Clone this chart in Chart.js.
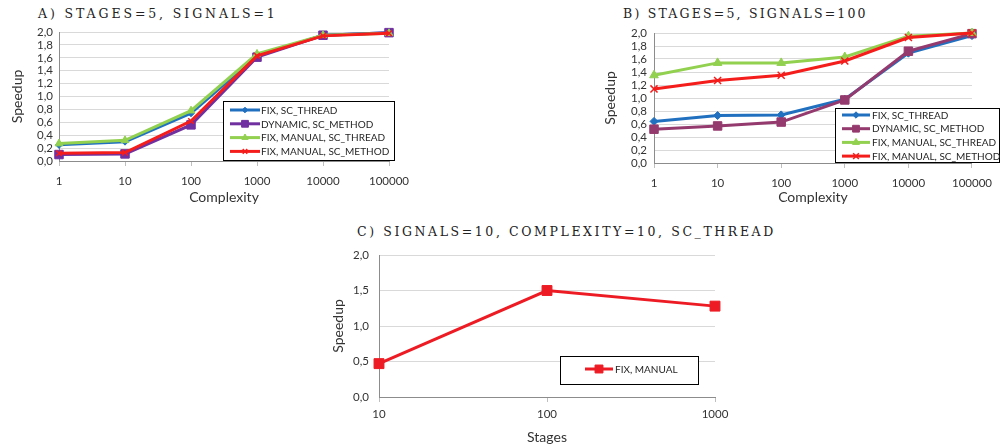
<!DOCTYPE html>
<html>
<head>
<meta charset="utf-8">
<script src="https://cdn.jsdelivr.net/npm/chart.js@4"></script>
<style>
  body { margin: 0; background: #fff; width: 1000px; height: 448px; position: relative; overflow: hidden; }
  .box { position: absolute; }
  .ttl { position: absolute; font-family: "DejaVu Serif"; font-size: 12.5px; letter-spacing: 2.2px; color: #222; white-space: nowrap; line-height: 16px; }
</style>
</head>
<body>
<div class="ttl" style="left:38px;top:6px;letter-spacing:2.9px">A) STAGES=5, SIGNALS=1</div>
<div class="ttl" style="left:623px;top:6px">B) STAGES=5, SIGNALS=100</div>
<div class="ttl" style="left:357px;top:224px;letter-spacing:2.6px">C) SIGNALS=10, COMPLEXITY=10, SC_THREAD</div>

<div class="box" style="left:0;top:0"><canvas id="chartA" width="420" height="210"></canvas></div>
<div class="box" style="left:580px;top:0"><canvas id="chartB" width="420" height="210"></canvas></div>
<div class="box" style="left:320px;top:215px"><canvas id="chartC" width="420" height="233"></canvas></div>

<script>
// categories
const complexity = ['1', '10', '100', '1000', '10000', '100000'];
const stages = ['10', '100', '1000'];
const seriesNames = ['FIX, SC_THREAD', 'DYNAMIC, SC_METHOD', 'FIX, MANUAL, SC_THREAD', 'FIX, MANUAL, SC_METHOD'];

// A) STAGES=5, SIGNALS=1
const aFixThread = [0.25, 0.30, 0.74, 1.63, 1.95, 1.99];
const aDynMethod = [0.10, 0.11, 0.56, 1.61, 1.95, 1.99];
const aManThread = [0.27, 0.32, 0.78, 1.66, 1.95, 1.98];
const aManMethod = [0.12, 0.13, 0.62, 1.63, 1.94, 1.98];

// B) STAGES=5, SIGNALS=100
const bFixThread = [0.64, 0.73, 0.74, 0.98, 1.69, 1.96];
const bDynMethod = [0.52, 0.57, 0.63, 0.97, 1.72, 1.99];
const bManThread = [1.35, 1.54, 1.54, 1.63, 1.95, 2.00];
const bManMethod = [1.14, 1.27, 1.35, 1.57, 1.93, 2.00];

// C) SIGNALS=10, COMPLEXITY=10
const cFixManual = [0.47, 1.50, 1.28];

const FONT = 'Lato';

// legend drawn inside the plot, like the excel one
const boxLegend = {
  id: 'boxLegend',
  afterDraw(chart, args, o) {
    const ctx = chart.ctx;
    ctx.save();
    ctx.fillStyle = '#fff';
    ctx.fillRect(o.x, o.y, o.w, o.h);
    ctx.strokeStyle = '#000';
    ctx.lineWidth = 1;
    ctx.strokeRect(o.x + 0.5, o.y + 0.5, o.w, o.h);
    ctx.font = o.font;
    ctx.textBaseline = 'middle';
    chart.data.datasets.forEach((ds, i) => {
      const y = o.rowY + i * o.rowH;
      ctx.strokeStyle = ds.borderColor;
      ctx.lineWidth = ds.borderWidth;
      ctx.beginPath();
      ctx.moveTo(o.lineX, y);
      ctx.lineTo(o.lineX + o.lineW, y);
      ctx.stroke();
      ctx.fillStyle = ds.pointBackgroundColor;
      ctx.strokeStyle = ds.pointBorderColor;
      ctx.lineWidth = ds.pointBorderWidth;
      Chart.helpers.drawPoint(ctx, { pointStyle: ds.pointStyle, radius: ds.pointRadius * 0.8, borderWidth: ds.pointBorderWidth, rotation: 0 },
        o.lineX + o.lineW / 2, y);
      ctx.fillStyle = '#262626';
      ctx.fillText(ds.label, o.textX, y + 0.5);
    });
    ctx.restore();
  }
};

function series(label, data, color, style, radius, order) {
  return {
    label: label,
    data: data,
    borderColor: color,
    backgroundColor: color,
    pointBackgroundColor: color,
    pointBorderColor: color,
    pointBorderWidth: style === 'crossRot' ? 1.5 : 1,
    borderWidth: 3,
    pointStyle: style,
    pointRadius: radius,
    tension: 0,
    clip: false,
    order: order
  };
}

function fmt(v) {
  return v.toFixed(1).replace('.', ',');
}

function makeOptions(p) {
  return {
    responsive: false,
    animation: false,
    layout: { padding: { left: 0, top: p.top, right: p.right, bottom: 0 } },
    plugins: { legend: { display: false }, tooltip: { enabled: false }, boxLegend: p.legend },
    scales: {
      x: {
        grid: { display: true, drawOnChartArea: false, drawTicks: true, tickLength: 5, color: '#bfbfbf' },
        border: { color: '#8c8c8c', width: 1 },
        ticks: { color: '#333', font: { family: FONT, size: 11.5 }, padding: p.xPad, maxRotation: 0, autoSkip: false },
        title: { display: true, text: p.xTitle, color: '#333', font: { family: FONT, size: 14 }, padding: { top: 0, bottom: p.xTitlePad } },
        afterFit: s => { s.height = p.xHeight; }
      },
      y: {
        min: 0, max: 2,
        grid: { color: '#d9d9d9', drawTicks: false },
        border: { color: '#8c8c8c', width: 1 },
        ticks: { stepSize: p.step, autoSkip: false, color: '#333', font: { family: FONT, size: 11.5 }, padding: p.yPad, callback: fmt },
        title: { display: true, text: 'Speedup', color: '#333', font: { family: FONT, size: 14 }, padding: { top: p.yTitlePad, bottom: 0 } },
        afterFit: s => { s.width = p.yWidth; }
      }
    }
  };
}

new Chart(document.getElementById('chartA'), {
  type: 'line',
  data: {
    labels: complexity,
    datasets: [
      series(seriesNames[0], aFixThread, '#2170c0', 'rectRot', 3.5, 3),
      series(seriesNames[1], aDynMethod, '#7030a0', 'rect', 6, 2),
      series(seriesNames[2], aManThread, '#92d050', 'triangle', 4.5, 1),
      series(seriesNames[3], aManMethod, '#f51c1c', 'crossRot', 4, 0)
    ]
  },
  options: makeOptions({
    top: 32, right: 31, xHeight: 49, yWidth: 59, xPad: 8, yPad: 6, step: 0.2,
    xTitle: 'Complexity', xTitlePad: 4, yTitlePad: 9,
    legend: { x: 223, y: 101, w: 171, h: 59, lineX: 230, lineW: 30, rowY: 110, rowH: 13.8, textX: 261, font: '10px ' + FONT }
  }),
  plugins: [boxLegend]
});

new Chart(document.getElementById('chartB'), {
  type: 'line',
  data: {
    labels: complexity,
    datasets: [
      series(seriesNames[0], bFixThread, '#2170c0', 'rectRot', 4, 3),
      series(seriesNames[1], bDynMethod, '#953a6e', 'rect', 6, 2),
      series(seriesNames[2], bManThread, '#92d050', 'triangle', 5, 1),
      series(seriesNames[3], bManMethod, '#f51c1c', 'crossRot', 5, 0)
    ]
  },
  options: makeOptions({
    top: 33, right: 21, xHeight: 47, yWidth: 74, xPad: 8, yPad: 7, step: 0.2,
    xTitle: 'Complexity', xTitlePad: 4, yTitlePad: 22,
    legend: { x: 255, y: 108, w: 164, h: 54, lineX: 262, lineW: 28, rowY: 115, rowH: 13.7, textX: 292, font: '10px ' + FONT }
  }),
  plugins: [boxLegend]
});

new Chart(document.getElementById('chartC'), {
  type: 'line',
  data: {
    labels: stages,
    datasets: [
      series('FIX, MANUAL', cFixManual, '#ed1c24', 'rect', 7, 0)
    ]
  },
  options: makeOptions({
    top: 40, right: 25, xHeight: 51, yWidth: 59, xPad: 5, yPad: 10, step: 0.5,
    xTitle: 'Stages', xTitlePad: 2, yTitlePad: 10,
    legend: { x: 240, y: 141, w: 138, h: 28, lineX: 265, lineW: 28, rowY: 154, rowH: 14, textX: 295, font: '10px ' + FONT }
  }),
  plugins: [boxLegend]
});
</script>
</body>
</html>
